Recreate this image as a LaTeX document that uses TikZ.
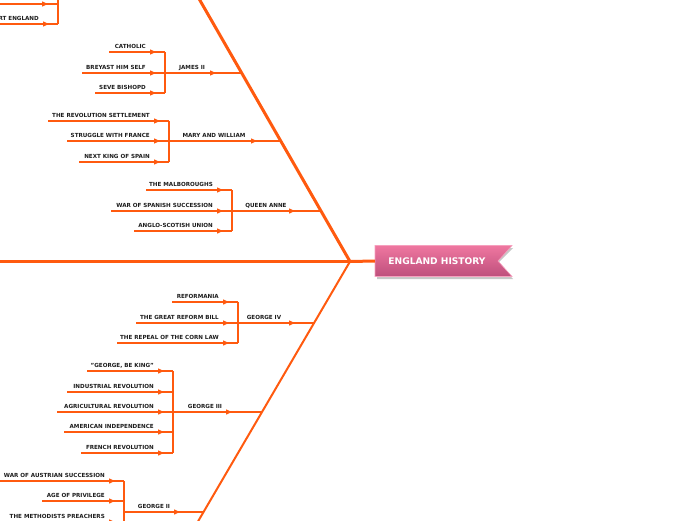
\documentclass[tikz,border=0pt]{standalone}
\usepackage{fontspec}
\setmainfont{DejaVu Sans}
\usetikzlibrary{arrows.meta,decorations.markings}
\definecolor{bone}{HTML}{FF5A0F}
\definecolor{labeltxt}{HTML}{1C1C1C}
\definecolor{headtop}{HTML}{EF77A0}
\definecolor{headbot}{HTML}{BE4F7C}
\definecolor{headrim}{HTML}{F6A0BE}
\tikzset{
  lbl/.style={font=\fontsize{5.6}{6}\selectfont\bfseries, text=labeltxt, inner sep=0pt},
  rib/.style={color=bone, line width=1.3pt},
  tipat/.style={postaction={decorate}, decoration={markings, mark=at position #1 with {\arrow{Triangle[length=6pt,width=5pt]}}}},
  ribtip/.style={color=bone, line width=1.3pt, -{Triangle[length=6pt,width=5pt]}},
  upperbone/.style={color=bone, line width=3pt},
  lowerbone/.style={color=bone, line width=2pt},
  spine/.style={color=bone, line width=3pt},
}
% sub item: name, start x, bracket x, y, text
\newcommand\fbsub[5]{%
  \node[lbl, anchor=base east] (#1) at (#3-19,#4-3.5) {#5};
  \coordinate (#1s) at (#2,#4);
  \coordinate (#1e) at (#3,#4);
  \draw[rib, tipat=-9pt] (#1s) -- (#1e);
}
% main rib: name, bracket x, bone x, y, tip x, label centre x, text
\newcommand\fbrib[7]{%
  \coordinate (#1b) at (#2,#4);
  \coordinate (#1j) at (#3,#4);
  \node[lbl, anchor=base] (#1) at (#6,#4-3.5) {#7};
  \draw[rib] (#1b) -- (#1j);
  \draw[rib, line width=2pt] (#1b) -- ++(10,0);
  \draw[ribtip] (#5-8,#4) -- (#5,#4);
}
\begin{document}
\begin{tikzpicture}[x=1pt,y=-1pt]
\useasboundingbox (0,0) rectangle (696,520);
\clip (0,0) rectangle (696,520);

% head
\coordinate (jn) at (350,261.5);
\fill[black!22] (377,248) -- (513,248) -- (498,263) -- (513,279) -- (377,279) -- cycle;
\shade[top color=headtop, bottom color=headbot, draw=headrim, line width=0.6pt]
  (375,245.5) -- (512,245.5) -- (498,261) -- (512,276.5) -- (375,276.5) -- cycle;
\node[minimum width=137pt, minimum height=31pt, inner sep=0pt] (head) at (443.5,261) {};
\node[font=\fontsize{9.1}{10}\selectfont\bfseries, text=white, inner sep=0pt] (headtxt) at (437,261.5) {ENGLAND HISTORY};

% spine and bones
\coordinate (spl) at (-5,261.5);
\coordinate (ub) at (194,-10);
\coordinate (lb) at (193,530);
\draw[spine] (spl) -- (jn);
\draw[spine] (jn) -- (head.west);
\draw[upperbone] (jn) -- (ub);
\draw[lowerbone] (jn) -- (lb);

% top partial group
\coordinate (t1s) at (-5,4);  \coordinate (t1e) at (58,4);
\draw[rib, tipat=-10pt] (t1s) -- (t1e);
\fbsub{t2}{-5}{58}{24}{RT ENGLAND}
\coordinate (ttop) at (58,-15);
\draw[rib] (ttop) -- (t2e);

% James II
\fbsub{j1}{109}{165}{52}{CATHOLIC}
\fbsub{j2}{82}{165}{73}{BREYAST HIM SELF}
\fbsub{j3}{95}{165}{93}{SEVE BISHOPD}
\draw[rib] (j1e) -- (j3e);
\fbrib{james}{165}{242}{73}{216}{192}{JAMES II}

% Mary and William
\fbsub{m1}{48}{169}{121}{THE REVOLUTION SETTLEMENT}
\fbsub{m2}{67}{169}{141}{STRUGGLE WITH FRANCE}
\fbsub{m3}{79}{169}{162}{NEXT KING OF SPAIN}
\draw[rib] (m1e) -- (m3e);
\fbrib{mary}{169}{281}{141}{257}{214}{MARY AND WILLIAM}

% Queen Anne
\fbsub{q1}{146}{232}{190}{THE MALBOROUGHS}
\fbsub{q2}{111}{232}{211}{WAR OF SPANISH SUCCESSION}
\fbsub{q3}{134}{232}{231}{ANGLO-SCOTISH UNION}
\draw[rib] (q1e) -- (q3e);
\fbrib{anne}{232}{321}{211}{295}{266}{QUEEN ANNE}

% George IV
\fbsub{g41}{172}{238}{302}{REFORMANIA}
\fbsub{g42}{136}{238}{323}{THE GREAT REFORM BILL}
\fbsub{g43}{117}{238}{343}{THE REPEAL OF THE CORN LAW}
\draw[rib] (g41e) -- (g43e);
\fbrib{giv}{238}{314}{323}{295}{264}{GEORGE IV}

% George III
\fbsub{g31}{87}{173}{371}{"GEORGE, BE KING"}
\fbsub{g32}{67}{173}{392}{INDUSTRIAL REVOLUTION}
\fbsub{g33}{57}{173}{412}{AGRICULTURAL REVOLUTION}
\fbsub{g34}{64}{173}{432}{AMERICAN INDEPENDENCE}
\fbsub{g35}{81}{173}{453}{FRENCH REVOLUTION}
\draw[rib] (g31e) -- (g35e);
\fbrib{giii}{173}{262}{412}{232}{205}{GEORGE III}

% George II
\fbsub{g21}{-5}{124}{481}{WAR OF AUSTRIAN SUCCESSION}
\fbsub{g22}{42}{124}{501}{AGE OF PRIVILEGE}
\fbsub{g23}{5}{124}{522}{THE METHODISTS PREACHERS}
\coordinate (g2bot) at (124,540);
\draw[rib] (g21e) -- (g2bot);
\fbrib{gii}{124}{204}{512}{180}{154}{GEORGE II}
\end{tikzpicture}
\end{document}
